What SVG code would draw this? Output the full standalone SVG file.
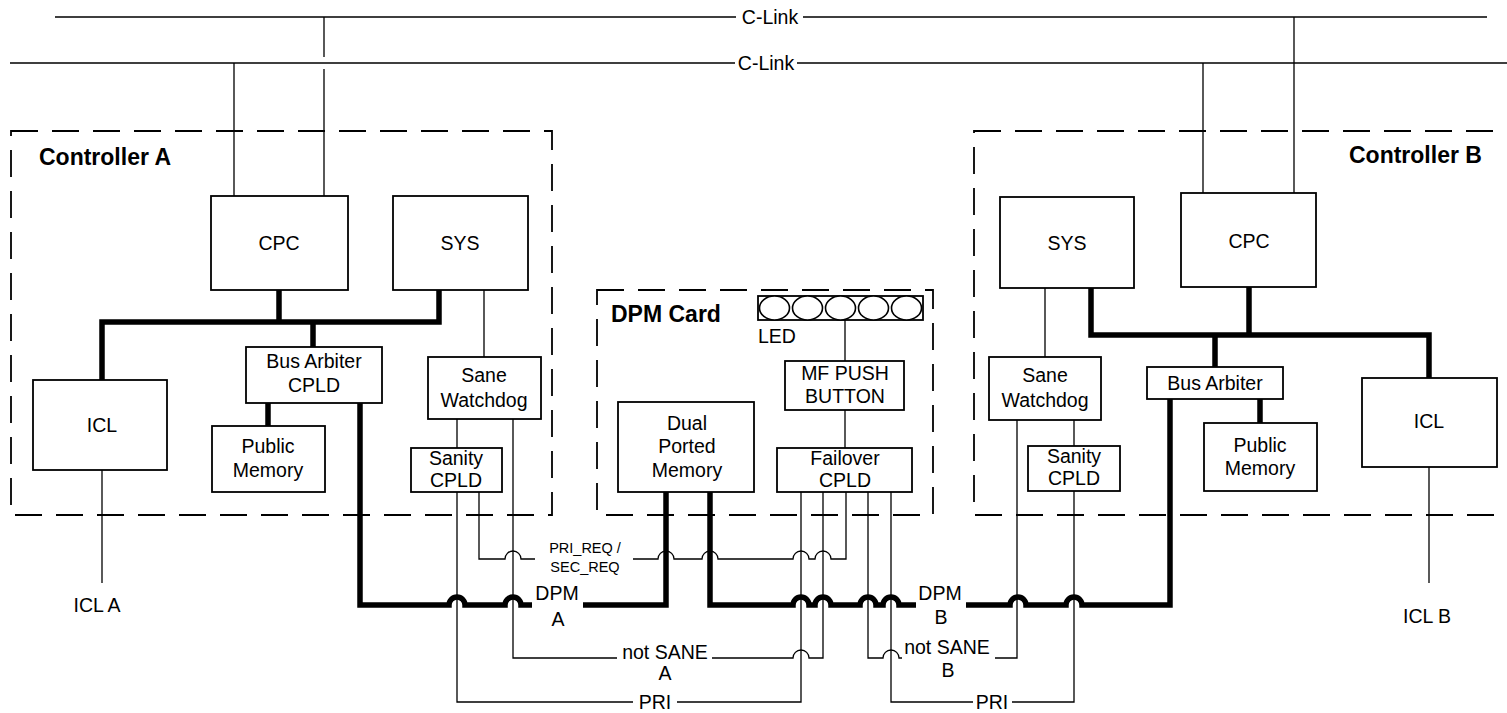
<svg xmlns="http://www.w3.org/2000/svg" width="1507" height="713" viewBox="0 0 1507 713">
<style>
.bg{fill:#fff}
.box{fill:#fff;stroke:#000;stroke-width:1.8}
.dash{fill:none;stroke:#000;stroke-width:1.8;stroke-dasharray:27 14}
.thin{fill:none;stroke:#000;stroke-width:1.3}
.thick{fill:none;stroke:#000;stroke-width:5.5}
.led{fill:#fff;stroke:#000;stroke-width:1.6}
text{font-family:"Liberation Sans",Arial,sans-serif;font-size:19.5px;fill:#000}
.c{text-anchor:middle}
.b{font-weight:bold;font-size:23px}
.s{font-size:14.5px}
</style>
<rect class="bg" x="0" y="0" width="1507" height="713"/>

<g id="controller-a-frame"><rect class="dash" x="11" y="131" width="541" height="384"/><text class="b" x="39" y="165">Controller A</text></g>
<g id="controller-b-frame"><rect class="dash" x="974" y="131" width="560" height="384"/><text class="b" x="1349" y="163">Controller B</text></g>
<g id="dpm-card-frame"><rect class="dash" x="597" y="290" width="336" height="225"/><text class="b" x="611" y="322">DPM Card</text></g>

<g id="connectors">
<path class="thin" d="M55 17 H736 M803 17 H1487"/>
<path class="thin" d="M10 63 H735 M797 63 H1507"/>
<path class="thin" d="M324 17 V57 M324 69 V196 M234 63 V196"/>
<path class="thin" d="M1203 63 V193 M1294 17 V193"/>
<path class="thick" d="M102 380 V322 H439 V290 M279 290 V322 M313 322 V347 M268 403 V426"/>
<path class="thin" d="M484 290 V357 M457 419 V448"/>
<path class="thin" d="M102 470 V583"/>
<path class="thick" d="M1091 288 V335 H1429 V378 M1249 287 V335 M1215 335 V367 M1260 399 V423"/>
<path class="thin" d="M1045 288 V357 M1074 420 V446"/>
<path class="thin" d="M1429 467 V583"/>
<path class="thin" d="M845 320 V361 M845 410 V448"/>
<path class="thick" d="M360 403 V605 H449 A8 8 0 0 1 465 605 H505 A8 8 0 0 1 521 605 H532 M583 605 H666 V492"/>
<path class="thick" d="M710 492 V605 H793 A8 8 0 0 1 809 605 H815 A8 8 0 0 1 831 605 H860 A8 8 0 0 1 876 605 H883 A8 8 0 0 1 899 605 H916 M966 605 H1010 A8 8 0 0 1 1026 605 H1066 A8 8 0 0 1 1082 605 H1170 V399"/>
<path class="thin" d="M457 492 V702 H633 M677 702 H801 V492"/>
<path class="thin" d="M479 492 V559 H505 A8 8 0 0 1 521 559 H535 M633 559 H658 A8 8 0 0 1 674 559 H702 A8 8 0 0 1 718 559 H793 A8 8 0 0 1 809 559 H815 A8 8 0 0 1 831 559 H846 V492"/>
<path class="thin" d="M513 419 V658 H617 M712 658 H793 A8 8 0 0 1 809 658 H823 V492"/>
<path class="thin" d="M868 492 V658 H883 A8 8 0 0 1 899 658 H902 M995 658 H1017 V420"/>
<path class="thin" d="M891 492 V702 H973 M1012 702 H1074 V491"/>
</g>

<g id="cpc-a"><rect class="box" x="211" y="196" width="137" height="94"/><text class="c" x="279" y="250">CPC</text></g>
<g id="sys-a"><rect class="box" x="393" y="196" width="135" height="94"/><text class="c" x="460" y="250">SYS</text></g>
<g id="icl-a"><rect class="box" x="33" y="380" width="134" height="90"/><text class="c" x="102" y="432">ICL</text></g>
<g id="bus-arbiter-a"><rect class="box" x="246" y="347" width="136" height="56"/><text class="c" x="314" y="368">Bus Arbiter</text><text class="c" x="314" y="392">CPLD</text></g>
<g id="public-memory-a"><rect class="box" x="212" y="426" width="113" height="66"/><text class="c" x="268" y="453">Public</text><text class="c" x="268" y="477">Memory</text></g>
<g id="sane-watchdog-a"><rect class="box" x="428" y="357" width="113" height="62"/><text class="c" x="484" y="382">Sane</text><text class="c" x="484" y="407">Watchdog</text></g>
<g id="sanity-cpld-a"><rect class="box" x="411" y="448" width="91" height="44"/><text class="c" x="456" y="465">Sanity</text><text class="c" x="456" y="487">CPLD</text></g>

<g id="led"><rect class="box" x="758" y="296" width="165" height="24"/>
<ellipse class="led" cx="774.5" cy="308" rx="15" ry="12"/><ellipse class="led" cx="807.5" cy="308" rx="15" ry="12"/><ellipse class="led" cx="840.5" cy="308" rx="15" ry="12"/><ellipse class="led" cx="873.5" cy="308" rx="15" ry="12"/><ellipse class="led" cx="906.5" cy="308" rx="15" ry="12"/>
<text x="758" y="343">LED</text></g>
<g id="mf-push-button"><rect class="box" x="785" y="361" width="119" height="49"/><text class="c" x="845" y="380">MF PUSH</text><text class="c" x="845" y="403">BUTTON</text></g>
<g id="dual-ported-memory"><rect class="box" x="618" y="402" width="136" height="90"/><text class="c" x="687" y="430">Dual</text><text class="c" x="687" y="453">Ported</text><text class="c" x="687" y="477">Memory</text></g>
<g id="failover-cpld"><rect class="box" x="777" y="448" width="135" height="44"/><text class="c" x="845" y="465">Failover</text><text class="c" x="845" y="487">CPLD</text></g>

<g id="sys-b"><rect class="box" x="1000" y="197" width="134" height="91"/><text class="c" x="1067" y="250">SYS</text></g>
<g id="cpc-b"><rect class="box" x="1181" y="193" width="135" height="94"/><text class="c" x="1249" y="248">CPC</text></g>
<g id="sane-watchdog-b"><rect class="box" x="989" y="357" width="112" height="63"/><text class="c" x="1045" y="382">Sane</text><text class="c" x="1045" y="407">Watchdog</text></g>
<g id="sanity-cpld-b"><rect class="box" x="1028" y="446" width="92" height="45"/><text class="c" x="1074" y="463">Sanity</text><text class="c" x="1074" y="485">CPLD</text></g>
<g id="bus-arbiter-b"><rect class="box" x="1147" y="367" width="136" height="32"/><text class="c" x="1215" y="390">Bus Arbiter</text></g>
<g id="public-memory-b"><rect class="box" x="1204" y="423" width="113" height="68"/><text class="c" x="1260" y="452">Public</text><text class="c" x="1260" y="475">Memory</text></g>
<g id="icl-b"><rect class="box" x="1362" y="378" width="135" height="89"/><text class="c" x="1429" y="428">ICL</text></g>

<g id="labels">
<text class="c" x="770" y="24">C-Link</text>
<text class="c" x="766" y="70">C-Link</text>
<text class="c" x="97" y="612">ICL A</text>
<text class="c" x="1427" y="623">ICL B</text>
<text class="c s" x="585" y="553">PRI_REQ /</text>
<text class="c s" x="585" y="572">SEC_REQ</text>
<text class="c" x="557" y="600">DPM</text>
<text class="c" x="558" y="626">A</text>
<text class="c" x="940" y="600">DPM</text>
<text class="c" x="941" y="624">B</text>
<text class="c" x="665" y="659">not SANE</text>
<text class="c" x="665" y="680">A</text>
<text class="c" x="947" y="654">not SANE</text>
<text class="c" x="948" y="677">B</text>
<text class="c" x="655" y="709">PRI</text>
<text class="c" x="992" y="709">PRI</text>
</g>
</svg>
